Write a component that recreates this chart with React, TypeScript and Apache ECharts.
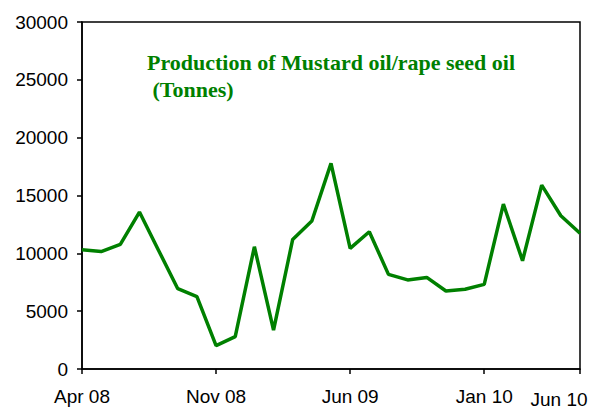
import React, { useEffect, useRef } from "react";
import * as echarts from "echarts";

const months = [
  "Apr 08", "May 08", "Jun 08", "Jul 08", "Aug 08", "Sep 08", "Oct 08", "Nov 08", "Dec 08",
  "Jan 09", "Feb 09", "Mar 09", "Apr 09", "May 09", "Jun 09", "Jul 09", "Aug 09", "Sep 09",
  "Oct 09", "Nov 09", "Dec 09", "Jan 10", "Feb 10", "Mar 10", "Apr 10", "May 10", "Jun 10",
];
const production = [
  10300, 10150, 10780, 13570, 10250, 6940, 6250, 2020, 2800,
  10570, 3370, 11200, 12790, 17780, 10430, 11870, 8180, 7700,
  7920, 6740, 6890, 7320, 14260, 9360, 15900, 13250, 11730,
];
const labeledMonths = ["Apr 08", "Nov 08", "Jun 09", "Jan 10", "Jun 10"];
const yTicks = { min: 0, max: 30000, interval: 5000 };
const titleText = "Production of Mustard oil/rape seed oil\n (Tonnes)";

export default function App() {
  const ref = useRef<HTMLDivElement>(null);
  useEffect(() => {
    if (!ref.current) return;
    const chart = echarts.init(ref.current, undefined, { renderer: "svg" });
    const lastLabel = months[months.length - 1];
    chart.setOption({
      animation: false,
      backgroundColor: "#ffffff",
      title: {
        text: titleText,
        left: 147,
        top: 49,
        padding: 0,
        textStyle: {
          fontFamily: "Liberation Serif",
          fontWeight: "bold",
          fontSize: 22,
          color: "#008000",
          lineHeight: 27,
        },
      },
      grid: {
        left: 82,
        right: 16,
        top: 22,
        bottom: 41,
        show: true,
        borderColor: "#000",
        borderWidth: 1.5,
        backgroundColor: "transparent",
      },
      xAxis: {
        type: "category",
        data: months,
        boundaryGap: false,
        axisLine: { lineStyle: { color: "#000", width: 1.5 } },
        axisTick: {
          inside: false,
          length: 5,
          interval: (i: number, v: string) => labeledMonths.includes(v),
          lineStyle: { color: "#000", width: 1.5 },
        },
        axisLabel: {
          interval: (i: number, v: string) => labeledMonths.includes(v),
          color: "#000",
          fontFamily: "Liberation Sans",
          fontSize: 19,
          margin: 18,
          formatter: (v: string) => (v === lastLabel ? "{last|" + v + "}" : v),
          rich: {
            last: {
              fontFamily: "Liberation Sans",
              fontSize: 19,
              color: "#000",
              padding: [3, 42, 0, 0],
            },
          },
        },
        splitLine: { show: false },
      },
      yAxis: {
        type: "value",
        min: yTicks.min,
        max: yTicks.max,
        interval: yTicks.interval,
        axisLine: { show: true, lineStyle: { color: "#000", width: 1.5 } },
        axisTick: { show: true, length: 5, lineStyle: { color: "#000", width: 1.5 } },
        axisLabel: {
          color: "#000",
          fontFamily: "Liberation Sans",
          fontSize: 19,
          margin: 14,
          formatter: (v: number) => String(v),
        },
        splitLine: { show: false },
      },
      series: [
        {
          type: "line",
          data: production,
          symbol: "none",
          lineStyle: { color: "#008000", width: 3.5 },
        },
      ],
    });
    return () => chart.dispose();
  }, []);
  return (
    <div
      ref={ref}
      style={{ position: "fixed", left: 0, top: 0, width: 596, height: 410 }}
    />
  );
}
